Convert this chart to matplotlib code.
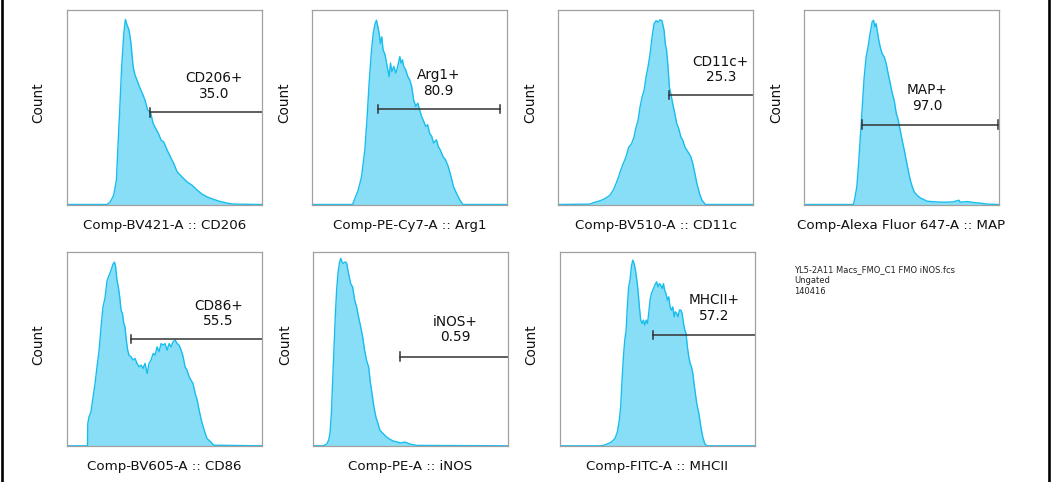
import matplotlib
matplotlib.use("Agg")
import matplotlib.pyplot as plt
from matplotlib.lines import Line2D

W, H = 1058, 482

# ---------------- data (x: % of axis range, y: % of max scale) ----------------
cd206_x = [0, 20.6, 22.3, 24.0, 25.4, 26.1, 27.1, 28.1, 29.2, 30.0, 30.9, 31.9, 32.9, 34.0, 35.0,
           36.0, 37.4, 38.8, 40.1, 41.5, 42.9, 44.3, 45.6, 47.0, 48.4, 49.7, 51.5, 53.2, 54.9,
           56.6, 58.3, 60.0, 61.7, 64.3, 66.9, 69.5, 72.0, 75.5, 78.9, 82.3, 85.8, 100]
cd206_y = [0, 0, 1.4, 4.8, 12.5, 27.9, 48.4, 70.6, 87.7, 94.9, 92.0, 89.4, 82.6, 70.6, 66.3,
           63.8, 60.0, 56.9, 53.5, 48.4, 47.5, 41.5, 39.0, 36.4, 33.0, 32.1, 27.9, 24.4, 21.0,
           16.8, 15.0, 13.3, 11.6, 9.9, 7.4, 5.3, 3.9, 2.6, 1.5, 0.7, 0.2, 0]

arg1_x = [0, 20.7, 21.9, 23.6, 25.3, 27.0, 28.2, 29.2, 30.3, 31.3, 32.3, 33.0, 33.7, 34.4, 35.0,
          35.7, 36.4, 37.4, 38.5, 39.5, 40.2, 40.9, 41.9, 42.9, 43.9, 45.0, 45.6, 46.3, 47.0,
          48.0, 49.1, 50.1, 51.1, 52.1, 53.2, 54.2, 55.2, 56.2, 57.3, 58.3, 59.3, 60.3, 61.4,
          62.4, 63.8, 64.8, 65.8, 67.2, 68.5, 69.9, 71.3, 72.6, 74.0, 75.7, 77.4, 100]
arg1_y = [0, 0, 3.1, 7.4, 14.2, 27.9, 45.0, 62.1, 77.4, 87.7, 92.8, 94.5, 91.1, 87.7, 82.6,
          86.0, 79.3, 76.8, 70.8, 65.6, 72.5, 68.2, 70.8, 67.4, 70.8, 75.9, 72.5, 74.2, 70.8,
          69.1, 65.6, 63.9, 60.5, 53.7, 50.3, 52.0, 48.5, 45.1, 42.6, 40.0, 40.9, 36.6, 34.9,
          31.5, 33.2, 29.7, 28.0, 24.6, 22.9, 19.5, 14.4, 9.2, 6.0, 2.6, 0, 0]

cd11c_x = [0, 16.3, 18.0, 19.7, 21.4, 23.2, 24.9, 26.6, 28.3, 29.7, 31.0, 32.1, 33.4, 34.8,
           36.2, 37.6, 38.9, 40.0, 41.0, 42.0, 43.1, 44.1, 45.1, 46.1, 47.2, 48.2, 49.2, 50.3,
           51.3, 52.3, 53.3, 54.4, 55.0, 55.7, 56.4, 57.1, 57.8, 58.8, 59.9, 60.9, 61.9, 63.0,
           64.0, 65.0, 66.0, 67.1, 68.1, 69.1, 70.2, 71.2, 72.6, 73.9, 75.6, 100]
cd11c_y = [0, 0.2, 0.9, 1.4, 1.9, 2.6, 3.6, 4.8, 7.4, 10.8, 14.2, 17.6, 21.0, 24.4,
           29.4, 31.1, 34.5, 39.7, 43.1, 49.9, 55.2, 58.6, 65.3, 70.4, 77.3, 85.8, 92.6, 94.3,
           93.5, 94.7, 94.3, 89.2, 82.4, 79.0, 70.6, 60.3, 57.1, 51.8, 46.7, 41.5, 39.0, 34.7,
           33.0, 29.7, 28.0, 26.3, 24.6, 21.2, 16.1, 11.0, 5.6, 2.2, 0, 0]

map_x = [0, 25.3, 26.1, 27.0, 27.8, 28.7, 29.7, 30.8, 31.8, 32.8, 33.8, 34.9, 35.6, 36.3, 36.9,
         37.6, 38.3, 39.0, 40.0, 41.1, 42.1, 43.1, 44.2, 45.2, 46.2, 47.3, 48.3, 49.3, 50.3,
         51.4, 52.4, 53.4, 54.5, 55.5, 56.5, 57.9, 59.6, 61.3, 63.1, 66.5, 69.9, 73.4, 76.8,
         79.4, 80.2, 83.7, 87.1, 90.5, 94.0, 100]
map_y = [0, 0, 3.9, 9.1, 19.3, 33.0, 48.4, 65.5, 75.7, 80.9, 87.7, 93.7, 94.5, 91.1, 92.8,
         88.5, 84.3, 80.9, 77.4, 75.7, 72.3, 67.2, 62.1, 57.0, 53.5, 46.7, 43.3, 38.1, 33.0,
         27.9, 22.7, 17.6, 12.5, 9.1, 6.5, 4.8, 3.4, 2.6, 1.7, 1.4, 1.2, 1.2, 1.4,
         2.2, 1.2, 1.5, 1.0, 0.7, 0.2, 0]

cd86_x = [0, 10.5, 10.7, 11.3, 12.3, 13.4, 14.4, 15.4, 16.5, 17.5, 18.5, 19.6, 20.6, 21.6, 22.6,
          23.7, 24.4, 25.0, 25.7, 26.4, 27.1, 27.8, 28.5, 29.2, 29.8, 30.5, 31.2, 31.9, 32.9,
          34.0, 35.0, 36.0, 37.0, 38.1, 39.1, 40.1, 41.2, 42.2, 43.2, 44.3, 45.3, 46.3, 47.3,
          48.4, 49.4, 50.4, 51.5, 52.5, 53.5, 54.5, 55.6, 56.6, 57.6, 58.7, 59.7, 60.7, 61.7,
          62.8, 63.8, 64.8, 65.9, 66.9, 67.9, 69.0, 70.0, 71.0, 72.0, 73.8, 75.5, 100]
cd86_y = [0, 0, 11.5, 14.9, 17.4, 25.1, 32.0, 40.5, 49.1, 61.2, 71.5, 76.6, 85.2, 87.8, 90.4,
          93.8, 94.7, 92.3, 85.4, 81.8, 76.8, 69.9, 68.2, 63.1, 61.3, 54.5, 49.3, 46.7, 45.9,
          44.2, 45.0, 42.5, 40.7, 41.6, 39.9, 42.5, 37.3, 42.5, 44.2, 47.6, 46.7, 51.0, 48.5,
          52.7, 51.9, 52.7, 49.3, 52.7, 51.0, 53.6, 54.5, 52.7, 51.9, 49.3, 45.9, 40.7, 39.0,
          35.6, 33.8, 32.1, 27.0, 23.7, 18.6, 13.4, 9.9, 6.5, 3.8, 2.1, 0.3, 0]

inos_x = [0, 5.1, 6.9, 7.9, 8.6, 9.3, 9.9, 10.6, 11.3, 12.0, 12.7, 13.4, 14.1, 14.8, 15.4,
          16.5, 17.2, 17.8, 18.5, 19.2, 20.2, 21.3, 22.3, 23.3, 24.4, 25.4, 26.4, 27.4, 28.5,
          29.2, 30.2, 31.2, 32.2, 33.3, 34.3, 36.0, 37.7, 39.5, 41.2, 42.9, 44.6, 47.2, 49.7,
          53.2, 100]
inos_y = [0, 0, 0.9, 2.9, 6.4, 16.8, 32.3, 49.5, 66.7, 80.4, 89.0, 94.2, 96.6, 94.8, 94.0,
          94.8, 94.0, 90.5, 87.1, 83.6, 81.9, 75.0, 71.5, 66.3, 61.2, 56.0, 49.1, 44.0, 40.5,
          33.7, 26.8, 19.9, 14.8, 11.3, 7.9, 6.2, 4.5, 3.3, 2.4, 2.1, 1.5, 1.9, 0.9,
          0.2, 0]

mhcii_x = [0, 21.4, 23.2, 24.9, 26.6, 28.3, 29.5, 30.5, 31.2, 31.9, 32.6, 33.3, 34.0, 34.6,
           35.3, 36.0, 36.7, 37.4, 38.1, 38.8, 39.5, 40.1, 40.8, 41.5, 42.2, 42.9, 43.6, 44.3,
           45.0, 45.6, 46.3, 47.0, 47.7, 48.4, 49.1, 49.7, 50.4, 51.1, 51.8, 52.5, 53.2, 53.8,
           54.5, 55.2, 55.9, 56.6, 57.3, 58.0, 58.7, 59.3, 60.0, 60.7, 61.4, 62.1, 62.8, 63.5,
           64.2, 64.8, 65.5, 66.2, 66.9, 67.6, 68.3, 68.9, 69.6, 70.3, 71.4, 72.4, 73.4, 74.4,
           75.5, 100]
mhcii_y = [0, 0, 0.5, 1.2, 2.1, 3.8, 7.2, 13.2, 20.1, 33.8, 45.9, 54.5, 59.6, 71.6,
           81.9, 85.4, 92.3, 95.7, 94.0, 90.5, 85.4, 80.2, 71.6, 64.8, 63.1, 64.8, 62.2, 64.8,
           63.1, 68.2, 75.1, 78.5, 80.2, 81.9, 83.6, 84.5, 81.9, 83.6, 82.8, 81.1, 83.6, 80.2,
           78.5, 75.1, 76.8, 71.6, 69.9, 71.6, 66.5, 69.1, 68.2, 66.5, 70.0, 70.0, 68.2, 63.1,
           59.6, 57.9, 51.0, 45.9, 42.5, 40.7, 37.3, 32.1, 27.0, 21.8, 16.7, 9.8, 4.6, 1.2,
           0, 0]

xlabels = ["Comp-BV421-A :: CD206", "Comp-PE-Cy7-A :: Arg1", "Comp-BV510-A :: CD11c",
           "Comp-Alexa Fluor 647-A :: MAP", "Comp-BV605-A :: CD86", "Comp-PE-A :: iNOS",
           "Comp-FITC-A :: MHCII"]
gate_names = ["CD206+", "Arg1+", "CD11c+", "MAP+", "CD86+", "iNOS+", "MHCII+"]
gate_values = ["35.0", "80.9", "25.3", "97.0", "55.5", "0.59", "57.2"]
gate_start = [42.9, 33.8, 57.1, 29.6, 33.1, 44.8, 48.0]
gate_end = [100, 96.6, 100, 99.7, 100, 100, 100]
gate_level = [47.2, 48.9, 56.1, 41.0, 55.0, 45.9, 57.2]
label_x = [75.5, 64.8, 83.5, 63.1, 78.0, 72.9, 79.4]
label_y = [60.7, 62.2, 69.2, 54.7, 68.2, 60.0, 71.0]
info_lines = ["YL5-2A11 Macs_FMO_C1 FMO iNOS.fcs", "Ungated", "140416"]

hist_x = [cd206_x, arg1_x, cd11c_x, map_x, cd86_x, inos_x, mhcii_x]
hist_y = [cd206_y, arg1_y, cd11c_y, map_y, cd86_y, inos_y, mhcii_y]

# ---------------- layout (pixels) ----------------
boxes = [(67, 9.5, 194.5, 195), (312.3, 9.5, 194.5, 195), (558.3, 9.5, 194.5, 195),
         (804.3, 9.5, 194.5, 195),
         (67, 251.8, 194.5, 194), (313.3, 251.8, 194.5, 194), (560, 251.8, 194.5, 194)]

FILL = "#87def6"
EDGE = "#18bdee"
SPINE = "#a0a0a0"
GATE = "#333333"

fig = plt.figure(figsize=(W / 100, H / 100), dpi=100)
fig.patch.set_facecolor("white")

for i, (l, t, w, h) in enumerate(boxes):
    ax = fig.add_axes([l / W, (H - t - h) / H, w / W, h / H])
    ax.fill_between(hist_x[i], hist_y[i], 0, color=FILL, lw=0)
    ax.plot(hist_x[i], hist_y[i], color=EDGE, lw=1.0)
    ax.set_xlim(0, 100)
    ax.set_ylim(0, 100)
    ax.set_xticks([])
    ax.set_yticks([])
    for s in ax.spines.values():
        s.set_color(SPINE)
        s.set_linewidth(0.9)
    # gate
    gy = gate_level[i]
    ax.plot([gate_start[i], gate_end[i]], [gy, gy], color=GATE, lw=1.1, clip_on=False)
    ax.plot([gate_start[i], gate_start[i]], [gy - 2.2, gy + 2.2], color=GATE, lw=1.1)
    if gate_end[i] < 99.9 or i == 3:
        ax.plot([gate_end[i], gate_end[i]], [gy - 2.2, gy + 2.2], color=GATE, lw=1.1)
    ax.text(label_x[i], label_y[i], gate_names[i] + "\n" + gate_values[i],
            ha="center", va="center", fontsize=9.8, color="#111111", linespacing=1.15)
    # labels
    ax.text(0.5, -20.5 / h, xlabels[i], transform=ax.transAxes, ha="center", va="center",
            fontsize=9.6, color="#111111")
    ax.text(-28.5 / w, 0.52, "Count", transform=ax.transAxes, ha="center", va="center",
            rotation=90, fontsize=9.8, color="#111111")

# info text
for k, line in enumerate(info_lines):
    fig.text(794 / W, 1 - (270 + 10.8 * k) / H, line, ha="left", va="center",
             fontsize=6.0, color="#222222")

# black frame lines at left and right
fig.add_artist(Line2D([2.2 / W, 2.2 / W], [0, 1], color="black", lw=1.9))
fig.add_artist(Line2D([1048.8 / W, 1048.8 / W], [0, 1], color="black", lw=1.9))

fig.savefig("out.png", dpi=100, facecolor="white")
